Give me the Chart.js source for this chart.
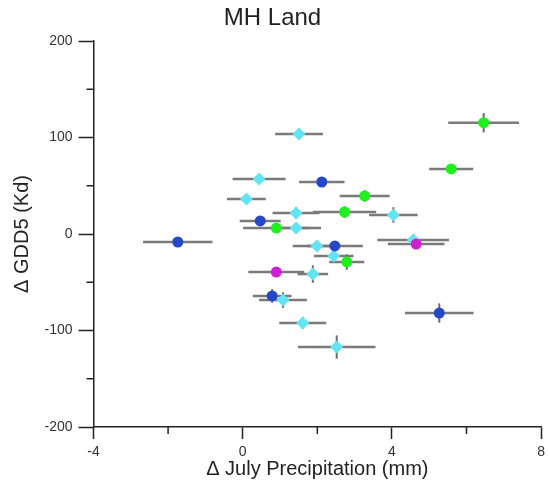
<!DOCTYPE html>
<html>
<head>
<meta charset="utf-8">
<script src="https://cdn.jsdelivr.net/npm/chart.js@4/dist/chart.umd.min.js"></script>
<style>
  html, body { margin: 0; padding: 0; background: #fff; }
  #wrap { width: 550px; height: 483px; }
</style>
</head>
<body>
<div id="wrap"><canvas id="chart"></canvas></div>
<script>
'use strict';

// cyan series
let cyanX    = [1.51, 0.44, 0.10, 1.43, 4.04, 1.43, 1.99, 2.44, 1.88, 4.57, 1.08, 1.61, 2.52];
let cyanY    = [103.6, 57, 36.3, 21.8, 19.7, 6.2, -12.4, -22.8, -41.5, -6.2, -68.4, -92.2, -117.1];
let cyanXErr = [0.64, 0.71, 0.52, 0.63, 0.65, 0.67, 0.65, 0.53, 0.41, 0.96, 0.64, 0.63, 1.04];
let cyanYErr = [5, 4, 4, 6, 8, 4, 5, 6, 9, 6, 8, 6, 12];

// blue series
let blueX    = [2.12, 0.47, -1.74, 2.47, 0.79, 5.27];
let blueY    = [53.9, 13.5, -8.3, -12.4, -64.2, -81.9];
let blueXErr = [0.61, 0.55, 0.93, 0.75, 0.52, 0.92];
let blueYErr = [4, 4, 4, 5, 7, 10];

// green series
let greenX    = [6.46, 5.59, 3.27, 2.73, 0.90, 2.79];
let greenY    = [115.3, 67.4, 39.4, 22.8, 6.2, -29];
let greenXErr = [0.95, 0.59, 0.67, 0.85, 0.89, 0.47];
let greenYErr = [10, 4, 6, 6, 4, 8];

// magenta series
let magentaX    = [0.90, 4.65];
let magentaY    = [-39.4, -10.4];
let magentaXErr = [0.75, 0.76];
let magentaYErr = [4, 4];

let xTicksMinor = [-2, 2, 6];
let yTicksMinor = [150, 50, -50, -150];

function toPoints(xs, ys) {
    let pts = [];
    for (let i = 0; i < xs.length; i++) {
        pts.push({x: xs[i], y: ys[i]});
    }
    return pts;
}

function serie(xs, ys, xe, ye, color, shape, r) {
    return {
        data: toPoints(xs, ys),
        xErr: xe,
        yErr: ye,
        backgroundColor: color,
        borderColor: color,
        borderWidth: 0,
        pointStyle: shape,
        pointRadius: r,
        pointHoverRadius: r
    };
}

//barras de error (antes de los puntos)
const errorBars = {
    id: 'errorBars',
    beforeDatasetsDraw(chart) {
        const ctx = chart.ctx;
        const sx = chart.scales.x;
        const sy = chart.scales.y;
        ctx.save();
        ctx.lineCap = 'butt';
        chart.data.datasets.forEach(ds => {
            ds.data.forEach((p, i) => {
                const px = sx.getPixelForValue(p.x);
                const py = sy.getPixelForValue(p.y);
                ctx.strokeStyle = '#7a7a7a';
                ctx.lineWidth = 2.5;
                ctx.beginPath();
                ctx.moveTo(sx.getPixelForValue(p.x - ds.xErr[i]), py);
                ctx.lineTo(sx.getPixelForValue(p.x + ds.xErr[i]), py);
                ctx.stroke();
                ctx.strokeStyle = '#6a6a6a';
                ctx.lineWidth = 2;
                ctx.beginPath();
                ctx.moveTo(px, sy.getPixelForValue(p.y - ds.yErr[i]));
                ctx.lineTo(px, sy.getPixelForValue(p.y + ds.yErr[i]));
                ctx.stroke();
            });
        });
        ctx.restore();
    }
};

//ticks menores
const minorTicks = {
    id: 'minorTicks',
    afterDraw(chart) {
        const ctx = chart.ctx;
        const sx = chart.scales.x;
        const sy = chart.scales.y;
        const area = chart.chartArea;
        ctx.save();
        ctx.strokeStyle = '#222';
        ctx.lineWidth = 1.5;
        for (let v of xTicksMinor) {
            const px = sx.getPixelForValue(v);
            ctx.beginPath();
            ctx.moveTo(px, area.bottom);
            ctx.lineTo(px, area.bottom + 7);
            ctx.stroke();
        }
        for (let v of yTicksMinor) {
            const py = sy.getPixelForValue(v);
            ctx.beginPath();
            ctx.moveTo(area.left - 7, py);
            ctx.lineTo(area.left, py);
            ctx.stroke();
        }
        ctx.restore();
    }
};

const fontFam = '"Liberation Sans", Arial, sans-serif';

new Chart('chart', {
    type: 'scatter',
    data: {
        datasets: [
            serie(blueX, blueY, blueXErr, blueYErr, '#2448c8', 'circle', 5.5),
            serie(greenX, greenY, greenXErr, greenYErr, '#1ef01e', 'circle', 5.5),
            serie(magentaX, magentaY, magentaXErr, magentaYErr, '#d21ed2', 'circle', 5.5),
            serie(cyanX, cyanY, cyanXErr, cyanYErr, '#62e4f2', 'rectRot', 6.5)
        ]
    },
    options: {
        responsive: true,
        maintainAspectRatio: false,
        animation: false,
        layout: { padding: { left: 0, right: 5, top: 0, bottom: 0 } },
        plugins: {
            legend: { display: false },
            tooltip: { enabled: false },
            title: {
                display: true,
                text: 'MH Land',
                color: '#222',
                font: { family: fontFam, size: 24, weight: 'normal' },
                padding: { top: 4, bottom: 8.2 }
            }
        },
        scales: {
            x: {
                type: 'linear',
                min: -4,
                max: 8,
                afterFit: s => { s.height = 56; },
                ticks: {
                    stepSize: 4,
                    color: '#333',
                    padding: 5,
                    maxRotation: 0,
                    font: { family: fontFam, size: 14 }
                },
                grid: {
                    drawOnChartArea: false,
                    tickLength: 12,
                    tickColor: '#222',
                    tickWidth: 1.5
                },
                border: { color: '#222', width: 1.5 },
                title: {
                    display: true,
                    text: 'Δ July Precipitation (mm)',
                    color: '#222',
                    font: { family: fontFam, size: 20 },
                    padding: { top: 0, bottom: 2 }
                }
            },
            y: {
                type: 'linear',
                min: -200,
                max: 200,
                afterFit: s => { s.width = 93.5; },
                ticks: {
                    stepSize: 100,
                    color: '#333',
                    padding: 6,
                    font: { family: fontFam, size: 14 }
                },
                grid: {
                    drawOnChartArea: false,
                    tickLength: 15,
                    tickColor: '#222',
                    tickWidth: 1.5
                },
                border: { color: '#222', width: 1.5 },
                title: {
                    display: true,
                    text: 'Δ GDD5 (Kd)',
                    color: '#222',
                    font: { family: fontFam, size: 20 },
                    padding: { top: 10, bottom: 0 }
                }
            }
        }
    },
    plugins: [errorBars, minorTicks]
});
</script>
</body>
</html>
